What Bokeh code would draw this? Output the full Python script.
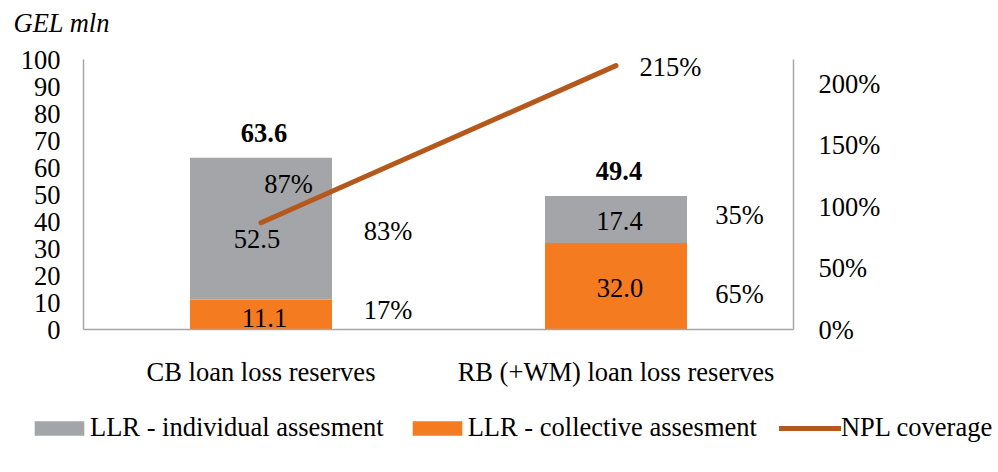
from bokeh.plotting import figure
from bokeh.layouts import column
from bokeh.models import (ColumnDataSource, FactorRange, Range1d, LinearAxis, FixedTicker,
                          PrintfTickFormatter, Legend, LegendItem)
from bokeh.core.properties import value
from bokeh.embed import file_html
from bokeh.resources import INLINE

# ---------------- data ----------------
categories = ["CB loan loss reserves", "RB (+WM) loan loss reserves"]
llr_individual = [52.5, 17.4]
llr_collective = [11.1, 32.0]
npl_coverage = [87, 215]          # %
left_ticks = [0, 10, 20, 30, 40, 50, 60, 70, 80, 90, 100]
right_ticks = [0, 50, 100, 150, 200]
series_names = ["LLR - individual assesment", "LLR - collective assesment", "NPL coverage"]
unit_label = "GEL mln"

totals = [a + b for a, b in zip(llr_individual, llr_collective)]

# ---------------- styles / layout ----------------
FONT = "Liberation Serif"
FONT_V = value(FONT)
FS = "26.5px"
GRAY = "#A4A5A9"
ORANGE = "#F47B20"
LINEC = "#B5581C"
AXC = "#A6A6A6"
W = 994
HEAD_H = 40          # strip holding the unit label
MAIN_H = 360         # chart strip
LEG_H = 60           # legend strip
FRAME_L, FRAME_R = 83, 793
AXIS_TOP, FRAME_BOT = 59, 329          # page y of the 100 / 0 gridlines
LEFT_MAX, RIGHT_MAX = 100, 220          # axis extents
# the frame extends above the axes' top so labels near it are not clipped
stretch = (FRAME_BOT - HEAD_H) / (FRAME_BOT - AXIS_TOP)


def strip(height):
    """A frameless, axis-less figure whose data units equal pixels."""
    f = figure(width=W, height=height, output_backend="svg", toolbar_location=None,
               x_range=Range1d(0, W), y_range=Range1d(0, height),
               x_axis_type=None, y_axis_type=None, min_border=0)
    f.frame_align = False
    f.outline_line_color = None
    f.xgrid.grid_line_color = None
    f.ygrid.grid_line_color = None
    f.background_fill_color = None
    f.border_fill_color = "white"
    return f


# ---------------- header strip with unit label ----------------
head = strip(HEAD_H)
head.text(x=[13], y=[HEAD_H - 22], text=[unit_label], text_font=FONT_V, text_font_size=FS,
          text_font_style="italic", text_color="black", text_align="left",
          text_baseline="middle")

# ---------------- main chart ----------------
p = figure(x_range=FactorRange(*categories), y_range=Range1d(0, LEFT_MAX * stretch),
           width=W, height=MAIN_H, output_backend="svg", toolbar_location=None,
           min_border_left=FRAME_L, min_border_right=W - FRAME_R, min_border_top=0,
           min_border_bottom=HEAD_H + MAIN_H - FRAME_BOT)
p.frame_align = False
p.extra_y_ranges = {"pct": Range1d(0, RIGHT_MAX * stretch)}
p.outline_line_color = None
p.xgrid.grid_line_color = None
p.ygrid.grid_line_color = None
p.background_fill_color = None
p.border_fill_color = "white"

src = ColumnDataSource(dict(cat=categories, ind=llr_individual, col=llr_collective,
                            cov=npl_coverage))
p.vbar_stack(["col", "ind"], x="cat", width=0.4, source=src,
             color=[ORANGE, GRAY], line_color=None)
p.line(x="cat", y="cov", source=src, y_range_name="pct",
       line_width=5, line_color=LINEC, line_cap="round")


def style_axis(ax, standoff):
    ax.major_tick_line_color = None
    ax.minor_tick_line_color = None
    ax.major_tick_out = 0
    ax.major_tick_in = 0
    ax.axis_line_color = AXC
    ax.axis_line_width = 1.5
    ax.major_label_standoff = standoff
    ax.major_label_text_font = FONT
    ax.major_label_text_font_size = FS
    ax.major_label_text_color = "black"


for ax in p.yaxis:
    ax.ticker = FixedTicker(ticks=left_ticks)
    ax.bounds = (0, LEFT_MAX)
    style_axis(ax, 23)

rax = LinearAxis(y_range_name="pct", ticker=FixedTicker(ticks=right_ticks),
                 formatter=PrintfTickFormatter(format="%d%%"), bounds=(0, RIGHT_MAX))
style_axis(rax, 25)
p.add_layout(rax, "right")

for ax in p.xaxis:
    style_axis(ax, 27)


def add_texts(xs, ys, texts, dxs, dys, bold=False, align="center", yr=None):
    s = ColumnDataSource(dict(x=xs, y=ys, t=texts, dx=dxs, dy=dys))
    kw = {}
    if yr:
        kw["y_range_name"] = yr
    p.text(x="x", y="y", text="t", x_offset="dx", y_offset="dy", source=s,
           text_font=FONT_V, text_font_size=FS, text_color="black",
           text_font_style="bold" if bold else "normal",
           text_align=align, text_baseline="middle", **kw)


# totals above bars
add_texts(categories, totals, [f"{t:.1f}" for t in totals], [3, 3], [-25, -25], bold=True)
# segment values
mid_ind = [c + i / 2 for c, i in zip(llr_collective, llr_individual)]
mid_col = [c / 2 for c in llr_collective]
add_texts(categories, mid_ind, [f"{v:.1f}" for v in llr_individual], [-4, 3.5], [10, 1])
add_texts(categories, mid_col, [f"{v:.1f}" for v in llr_collective], [3.5, 4], [3, 2])
# shares to the right of the bars
share_ind = [f"{i / t:.0%}" for i, t in zip(llr_individual, totals)]
share_col = [f"{c / t:.0%}" for c, t in zip(llr_collective, totals)]
add_texts(categories, mid_ind, share_ind, [127, 123.5], [2, -5])
add_texts(categories, mid_col, share_col, [127, 123.5], [-5, 8])
# coverage labels
add_texts([categories[0]], [npl_coverage[0]], [f"{npl_coverage[0]}%"], [27.5], [-39], yr="pct")
add_texts([categories[1]], [npl_coverage[1]], [f"{npl_coverage[1]}%"], [23.5], [1],
          align="left", yr="pct")

# ---------------- legend strip ----------------
lg = strip(LEG_H)
# legend swatch renderers (their points lie outside the visible strip)
off = ColumnDataSource(dict(x=[-100, -90], top=[-100, -100]))
d_ind = lg.vbar(x="x", top="top", width=1, source=off, color=GRAY, line_color=None)
d_col = lg.vbar(x="x", top="top", width=1, source=off, color=ORANGE, line_color=None)
d_line = lg.line(x="x", y="top", source=off, line_width=5, line_color=LINEC, line_cap="round")

legend = Legend(items=[LegendItem(label=series_names[0], renderers=[d_ind]),
                       LegendItem(label=series_names[1], renderers=[d_col]),
                       LegendItem(label=series_names[2], renderers=[d_line])],
                orientation="horizontal", location=(28, 17),
                glyph_width=62, glyph_height=18, label_standoff=0, spacing=22,
                padding=0, margin=0, border_line_color=None, background_fill_alpha=0,
                label_text_font=FONT, label_text_font_size=FS, label_height=30,
                label_text_color="black")
lg.add_layout(legend, "center")

open("out.html", "w").write(file_html(column(head, p, lg, spacing=0), INLINE))
